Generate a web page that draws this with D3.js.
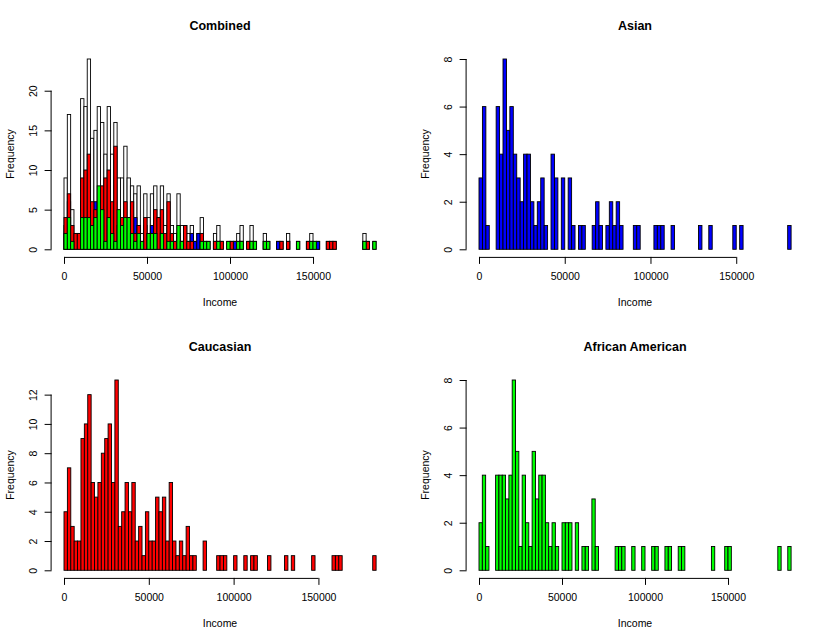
<!DOCTYPE html>
<html>
<head>
<meta charset="utf-8">
<script src="https://cdn.jsdelivr.net/npm/d3@7"></script>
<style>
  html, body { margin: 0; padding: 0; background: #fff; }
  svg { display: block; font-family: "Liberation Sans", Arial, Helvetica, sans-serif; }
</style>
</head>
<body>
<svg id="chart" width="830" height="642"></svg>
<script>
// Bin width of the histograms (income units)
const binWidth = 2000;

// Counts per 2000-wide income bin, starting at 0
const asian = [
  3,6,1,0,0,6,4,8,5,6,
  4,3,2,4,4,2,1,2,3,1,
  0,4,3,0,3,0,3,1,0,1,
  1,0,0,1,2,1,0,1,2,1,
  2,1,0,0,0,1,1,0,0,0,
  0,1,1,1,0,0,1,0,0,0,
  0,0,0,0,1,0,0,1,0,0,
  0,0,0,0,1,0,1,0,0,0,
  0,0,0,0,0,0,0,0,0,0,
  1
];
const caucasian = [
  4,7,3,2,2,9,10,12,6,5,
  6,8,9,10,6,13,3,4,6,4,
  6,2,3,1,4,2,2,5,4,5,
  2,6,2,1,2,1,3,1,1,0,
  0,2,0,0,0,1,1,1,0,0,
  1,0,0,1,0,1,1,0,0,0,
  1,0,0,0,0,1,0,1,0,0,
  0,0,0,1,0,0,0,0,0,1,
  1,1,0,0,0,0,0,0,0,0,
  0,1
];
const africanAmerican = [
  2,4,1,0,0,4,4,4,3,4,
  8,5,1,4,2,1,5,3,4,4,
  2,1,2,1,0,2,2,2,0,2,
  0,1,1,0,3,1,0,0,0,0,
  0,1,1,1,0,0,1,0,0,1,
  0,0,1,1,0,0,1,1,0,0,
  1,1,0,0,0,0,0,0,0,0,
  1,0,0,0,1,1,0,0,0,0,
  0,0,0,0,0,0,0,0,0,0,
  1,0,0,1
];
const combined = [
  9,17,5,2,2,19,18,24,14,15,
  18,16,12,18,12,16,9,9,13,9,
  8,7,8,2,7,4,7,8,4,8,
  3,7,3,2,7,3,3,2,3,1,
  2,4,1,1,0,2,3,1,0,1,
  1,1,2,3,0,1,3,1,0,0,
  2,1,0,0,1,1,0,2,0,0,
  1,0,0,1,2,1,1,0,0,1,
  1,1,0,0,0,0,0,0,0,0,
  2,1,0,1
];

// Tick labels
const xTicks = [0, 50000, 100000, 150000];
const yTicksCombined = [0, 5, 10, 15, 20];
const yTicksAsian = [0, 2, 4, 6, 8];
const yTicksCaucasian = [0, 2, 4, 6, 8, 10, 12];
const yTicksAfrican = [0, 2, 4, 6, 8];

const panels = [
  { title: "Combined", col: 0, row: 0, ymax: 24, yTicks: yTicksCombined, nbins: combined.length,
    layers: [ {data: combined, fill: "#ffffff"}, {data: asian, fill: "#0000ff"},
              {data: caucasian, fill: "#ff0000"}, {data: africanAmerican, fill: "#00ff00"} ] },
  { title: "Asian", col: 1, row: 0, ymax: 8, yTicks: yTicksAsian, nbins: asian.length,
    layers: [ {data: asian, fill: "#0000ff"} ] },
  { title: "Caucasian", col: 0, row: 1, ymax: 13, yTicks: yTicksCaucasian, nbins: caucasian.length,
    layers: [ {data: caucasian, fill: "#ff0000"} ] },
  { title: "African American", col: 1, row: 1, ymax: 8, yTicks: yTicksAfrican, nbins: africanAmerican.length,
    layers: [ {data: africanAmerican, fill: "#00ff00"} ] }
];

const svg = d3.select("#chart");
const figW = 415, figH = 321;

panels.forEach(p => {
  const ox = p.col * figW, oy = p.row * figH;
  const xmax = p.nbins * binWidth;
  const x = d3.scaleLinear().domain([0, xmax]).range([ox + 64, ox + 376.1]);
  const y = d3.scaleLinear().domain([0, p.ymax]).range([oy + 249.3, oy + 59]);
  const plotLeft = ox + 51.6, plotBottom = oy + 256.9;
  const g = svg.append("g");

  p.layers.forEach(layer => {
    g.append("g").selectAll("rect")
      .data(layer.data.map((v, i) => ({ x0: i * binWidth, x1: (i + 1) * binWidth, v })))
      .join("rect")
      .attr("x", d => x(d.x0))
      .attr("width", d => x(d.x1) - x(d.x0))
      .attr("y", d => y(d.v))
      .attr("height", d => y(0) - y(d.v))
      .attr("fill", layer.fill)
      .attr("stroke", "#000")
      .attr("stroke-width", 0.9);
  });

  // x axis
  const xa = g.append("g")
    .attr("transform", `translate(0,${plotBottom})`)
    .call(d3.axisBottom(x).tickValues(xTicks).tickFormat(d3.format("d")).tickSize(7).tickPadding(9));
  xa.select(".domain").remove();
  xa.append("line")
    .attr("x1", x(xTicks[0])).attr("x2", x(xTicks[xTicks.length - 1]))
    .attr("y1", 0.5).attr("y2", 0.5).attr("stroke", "#000");
  xa.selectAll("text").attr("font-size", 10.5).attr("fill", "#000").style("font-family", "Liberation Sans, Arial, sans-serif");
  xa.selectAll("line").attr("stroke", "#000");

  // y axis
  const ya = g.append("g")
    .attr("transform", `translate(${plotLeft},0)`)
    .call(d3.axisLeft(y).tickValues(p.yTicks).tickSize(7));
  ya.select(".domain").remove();
  ya.append("line")
    .attr("x1", -0.5).attr("x2", -0.5)
    .attr("y1", y(p.yTicks[0])).attr("y2", y(p.yTicks[p.yTicks.length - 1]))
    .attr("stroke", "#000");
  ya.selectAll("line").attr("stroke", "#000");
  ya.selectAll(".tick text")
    .attr("x", null).attr("dy", null)
    .attr("transform", "translate(-18.5,0) rotate(-90)")
    .attr("text-anchor", "middle")
    .attr("dy", "0.35em")
    .attr("font-size", 10.5).attr("fill", "#000")
    .style("font-family", "Liberation Sans, Arial, sans-serif");

  // titles
  g.append("text")
    .attr("x", ox + 220).attr("y", oy + 30)
    .attr("text-anchor", "middle")
    .attr("font-weight", "bold").attr("font-size", 12.5)
    .text(p.title);
  g.append("text")
    .attr("x", ox + 220).attr("y", oy + 305.5)
    .attr("text-anchor", "middle")
    .attr("font-size", 10.5)
    .text("Income");
  g.append("text")
    .attr("transform", `translate(${ox + 13.5},${oy + 154}) rotate(-90)`)
    .attr("text-anchor", "middle")
    .attr("font-size", 10.5)
    .text("Frequency");
});
</script>
</body>
</html>
